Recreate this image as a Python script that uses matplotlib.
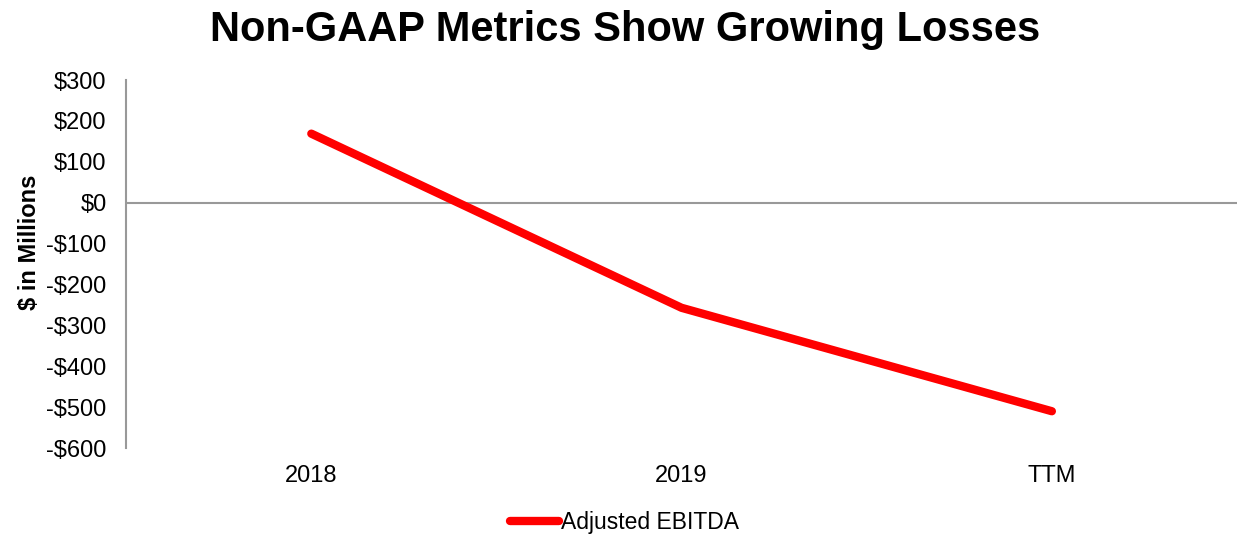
import matplotlib.pyplot as plt
from matplotlib.ticker import FuncFormatter

plt.rcParams['font.family'] = ['Liberation Sans', 'DejaVu Sans']

periods = ['2018', '2019', 'TTM']
adj_ebitda = [169, -257, -510]

fig = plt.figure(figsize=(12.37, 5.34), dpi=100)
ax = fig.add_axes([0.102, 0.161, 0.898, 0.689])

x = range(len(periods))
ax.plot(x, adj_ebitda, color='#ff0000', lw=6, solid_capstyle='round',
        label='Adjusted EBITDA')

ax.set_xlim(-0.5, 2.5)
ax.set_ylim(-600, 300)
ax.set_yticks(range(-600, 301, 100))
ax.yaxis.set_major_formatter(FuncFormatter(
    lambda v, p: f'${int(v)}' if v >= 0 else f'-${int(-v)}'))
ax.set_xticks(list(x))
ax.set_xticklabels(periods)
ax.tick_params(axis='both', length=0, labelsize=17, colors='black')
ax.tick_params(axis='x', pad=12)
ax.tick_params(axis='y', pad=14)

ax.axhline(0, color='#999999', lw=1.5, zorder=1)
for s in ['top', 'right', 'bottom']:
    ax.spines[s].set_visible(False)
ax.spines['left'].set_color('#999999')
ax.spines['left'].set_linewidth(1.5)

ax.set_ylabel('$ in Millions', fontsize=17, fontweight='bold')
ax.yaxis.set_label_coords(-0.077, 0.56)
fig.suptitle('Non-GAAP Metrics Show Growing Losses', fontsize=30,
             fontweight='bold', x=0.505, y=0.982)

fig.legend(loc='center', bbox_to_anchor=(0.505, 0.022), frameon=False,
           fontsize=16.5, handlelength=2.1, handletextpad=0.1)

fig.savefig('out.png', dpi=100)
